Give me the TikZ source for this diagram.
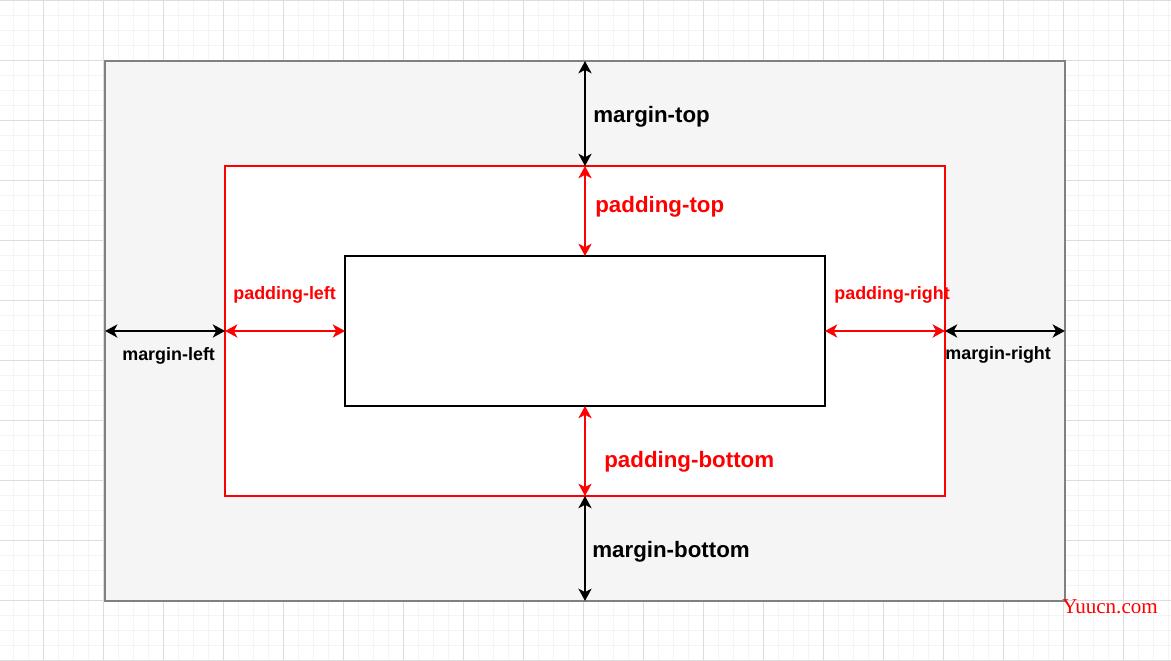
\documentclass[tikz,border=0pt]{standalone}
\usepackage{fontspec}
\setmainfont{Liberation Sans}
\newfontfamily\markfont{Liberation Serif}
\usetikzlibrary{arrows.meta,positioning}
\definecolor{boxgrey}{HTML}{F5F5F5}
\definecolor{edgegrey}{HTML}{808080}
\definecolor{gridminor}{HTML}{F4F4F4}
\definecolor{gridmajor}{HTML}{DDDDDD}
\definecolor{boxred}{HTML}{FF0000}

\begin{document}
\begin{tikzpicture}[
  x=0.02cm, y=-0.02cm,
  minorgrid/.style={draw=gridminor, line width=0.5pt},
  majorgrid/.style={draw=gridmajor, line width=0.55pt},
  boxnode/.style={rectangle, inner sep=0pt, outer sep=0pt},
  dim/.style={line width=1.1pt, {Stealth[length=7pt, width=7.5pt, inset=2pt]}-{Stealth[length=7pt, width=7.5pt, inset=2pt]}},
  biglbl/.style={anchor=west, inner sep=0pt, font=\fontsize{12.7}{15}\selectfont\bfseries},
  smalllbl/.style={anchor=west, inner sep=0pt, font=\fontsize{10.2}{12}\selectfont\bfseries}
]
\useasboundingbox (0,0) rectangle (1171,661);
\fill[white] (0,0) rectangle (1171,661);
% background grid
\foreach \gx in {13,28,...,1168} \draw[minorgrid] (\gx,0) -- (\gx,661);
\foreach \gy in {15,30,...,660} \draw[minorgrid] (0,\gy) -- (1171,\gy);
\foreach \gx in {43,103,...,1163} \draw[majorgrid] (\gx,0) -- (\gx,661);
\foreach \gy in {0,60,...,660} \draw[majorgrid] (0,\gy) -- (1171,\gy);

% boxes
\node[boxnode, draw=edgegrey, fill=boxgrey, line width=1.2pt, minimum width=19.2cm, minimum height=10.8cm] (outer) at (585,331) {};
\node[boxnode, draw=boxred, fill=white, line width=0.9pt, minimum width=14.4cm, minimum height=6.6cm] (pad) at (585,331) {};
\node[boxnode, draw=black, fill=white, line width=0.9pt, minimum width=9.6cm, minimum height=3cm] (content) at (585,331) {};

% margins
\draw[dim, black] (outer.north) -- (pad.north);
\draw[dim, black] (pad.south) -- (outer.south);
\draw[dim, black] (outer.west) -- (pad.west);
\draw[dim, black] (pad.east) -- (outer.east);
% paddings
\draw[dim, boxred] (pad.north) -- (content.north);
\draw[dim, boxred] (content.south) -- (pad.south);
\draw[dim, boxred] (pad.west) -- (content.west);
\draw[dim, boxred] (content.east) -- (pad.east);

% labels
\node[biglbl] (mtop) at (593,117) {margin-top};
\node[biglbl, text=boxred] (ptop) at (595,207) {padding-top};
\node[smalllbl, text=boxred] (pleft) at (233,295) {padding-left};
\node[smalllbl, text=boxred] (pright) at (834,295) {padding-right};
\node[smalllbl] (mleft) at (122,356) {margin-left};
\node[smalllbl] (mright) at (945,355) {margin-right};
\node[biglbl, text=boxred] (pbottom) at (604,462) {padding-bottom};
\node[biglbl] (mbottom) at (592,552) {margin-bottom};
\node[anchor=west, inner sep=0pt, text=boxred, font=\markfont\fontsize{12}{13}\selectfont] (mark) at (1062,607) {Yuucn.com};
\end{tikzpicture}
\end{document}
